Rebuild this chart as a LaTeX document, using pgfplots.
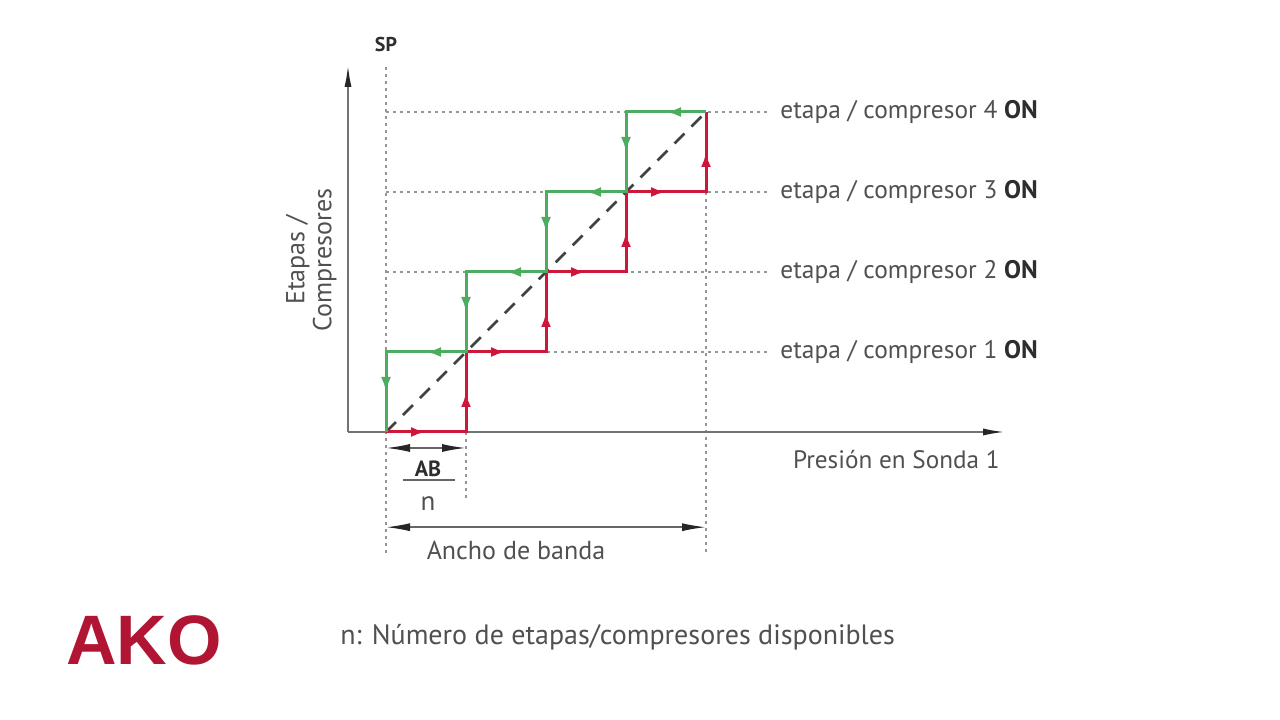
\documentclass[border=0pt]{standalone}
\usepackage{fontspec}
\setmainfont{PT Sans}
\newfontfamily\logofont{Liberation Sans}
\usepackage{pgfplots}
\pgfplotsset{compat=1.18}
\usetikzlibrary{arrows.meta,decorations.markings}
\definecolor{ared}{RGB}{206,22,58}
\definecolor{agreen}{RGB}{76,172,96}
\definecolor{axgray}{RGB}{115,115,115}
\definecolor{dotgray}{RGB}{150,150,150}
\definecolor{txt}{RGB}{80,80,80}
\definecolor{txtb}{RGB}{45,45,45}
\definecolor{logo}{RGB}{176,22,52}
\begin{document}
\begin{tikzpicture}
\begin{axis}[width=640pt,height=360pt,scale only axis,
  xmin=-4.825,xmax=11.175,ymin=-3.6,ymax=5.4,
  hide axis, clip=false]
\path (rel axis cs:0,0) rectangle (rel axis cs:1,1);
% dotted guide lines
\pgfplotsset{dotted guide/.style={dotgray, line width=0.8pt, dash pattern=on 1.5pt off 2pt}}
\addplot[dotted guide] coordinates {(0,4.56)(0,-1.54)};
\addplot[dotted guide] coordinates {(1,0)(1,-0.83)};
\addplot[dotted guide] coordinates {(4,3)(4,-1.54)};
\addplot[dotted guide] coordinates {(0,1)(4.8,1)};
\addplot[dotted guide] coordinates {(0,2)(4.8,2)};
\addplot[dotted guide] coordinates {(0,3)(4.8,3)};
\addplot[dotted guide] coordinates {(0,4)(4.8,4)};
% axes
\addplot[axgray, line width=1pt, -{Latex[length=11pt,width=3.5pt,black!85]}] coordinates {(-0.475,0)(7.74,0)};
\addplot[axgray, line width=1pt, -{Latex[length=11pt,width=3.5pt,black!85]}] coordinates {(-0.475,0)(-0.475,4.59)};
% diagonal
\addplot[black!75, line width=1.3pt, dash pattern=on 7pt off 5pt] coordinates {(0,0)(4,4)};
% red (rising)
\addplot[ared, line width=1.5pt, postaction={decorate},
  decoration={markings, mark=between positions 0.0625 and 1 step 0.125 with {\arrow{Latex[length=7.5pt,width=5pt]}}}]
  coordinates {(0,0)(1,0)(1,1)(2,1)(2,2)(3,2)(3,3)(4,3)(4,4)};
% green (falling)
\addplot[agreen, line width=1.5pt, postaction={decorate},
  decoration={markings, mark=between positions 0.0625 and 1 step 0.125 with {\arrow{Latex[length=7.5pt,width=5pt]}}}]
  coordinates {(4,4)(3,4)(3,3)(2,3)(2,2)(1,2)(1,1)(0,1)(0,0)};
% dimension arrows
\addplot[black!60, line width=0.8pt, {Latex[length=12pt,width=4pt,black!85]}-{Latex[length=12pt,width=4pt,black!85]}] coordinates {(0,-0.2)(1,-0.2)};
\addplot[black!60, line width=0.8pt, {Latex[length=12pt,width=4pt,black!85]}-{Latex[length=12pt,width=4pt,black!85]}] coordinates {(0,-1.19)(4,-1.19)};
\addplot[black!60, line width=0.8pt] coordinates {(0.21,-0.6)(0.86,-0.6)};
% texts
\node[anchor=west, text=txt, font=\fontsize{12.7}{12.7}\selectfont, inner sep=0pt] at (axis cs:4.925,4) {etapa / compresor 4 \textcolor{txtb}{\textbf{ON}}};
\node[anchor=west, text=txt, font=\fontsize{12.7}{12.7}\selectfont, inner sep=0pt] at (axis cs:4.925,3) {etapa / compresor 3 \textcolor{txtb}{\textbf{ON}}};
\node[anchor=west, text=txt, font=\fontsize{12.7}{12.7}\selectfont, inner sep=0pt] at (axis cs:4.925,2) {etapa / compresor 2 \textcolor{txtb}{\textbf{ON}}};
\node[anchor=west, text=txt, font=\fontsize{12.7}{12.7}\selectfont, inner sep=0pt] at (axis cs:4.925,1) {etapa / compresor 1 \textcolor{txtb}{\textbf{ON}}};
\node[anchor=east, text=txt, font=\fontsize{12.6}{12.6}\selectfont, inner sep=0pt] at (axis cs:7.675,-0.35) {Presión en Sonda 1};
\node[text=txt, font=\fontsize{13}{13}\selectfont, inner sep=0pt] at (axis cs:1.625,-1.475) {Ancho de banda};
\node[text=txtb, font=\bfseries\fontsize{11}{11}\selectfont, inner sep=0pt] at (axis cs:0.525,-0.46) {AB};
\node[text=txt, font=\fontsize{13.5}{13.5}\selectfont, inner sep=0pt] at (axis cs:0.525,-0.89) {n};
\node[text=txtb, font=\bfseries\fontsize{10}{10}\selectfont, inner sep=0pt] at (axis cs:0,4.84) {SP};
\node[text=txt, rotate=90, align=center, font=\fontsize{13}{13.5}\selectfont, inner sep=0pt] at (axis cs:-0.935,2.15) {Etapas /\\Compresores};
\node[anchor=west, text=txt, font=\fontsize{14}{14}\selectfont, inner sep=0pt] at (axis cs:-0.575,-2.56) {n: Número de etapas/compresores disponibles};
\node[anchor=west, text=logo, font=\logofont\bfseries\fontsize{35}{35}\selectfont, inner sep=0pt] at (axis cs:-4.0,-2.6) {AKO};
\end{axis}
\end{tikzpicture}
\end{document}
